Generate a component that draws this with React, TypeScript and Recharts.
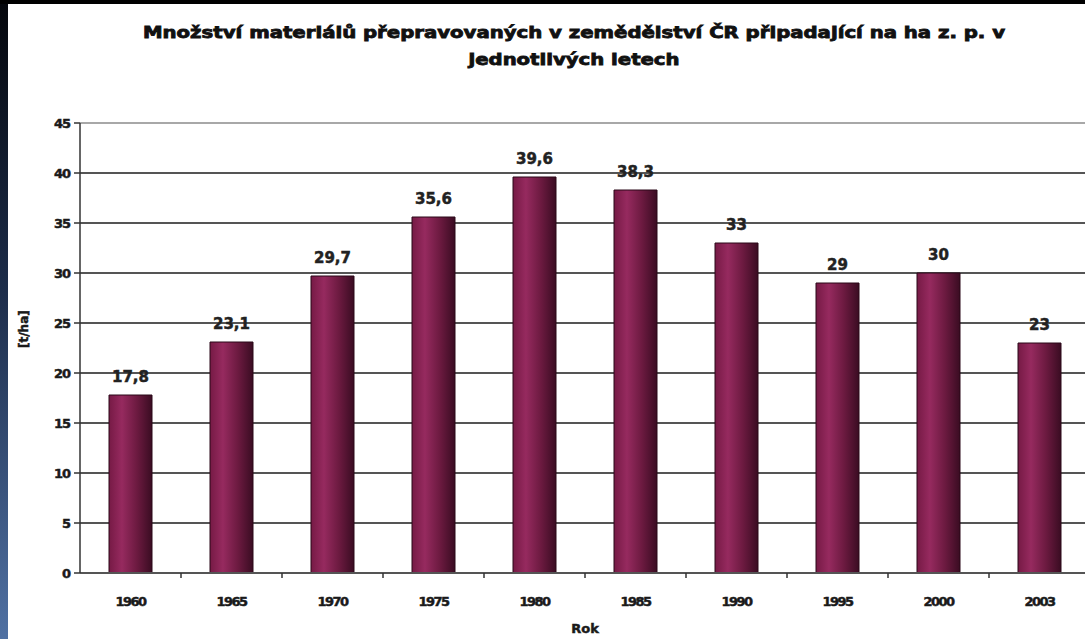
import { BarChart, Bar, XAxis, YAxis, CartesianGrid, LabelList, ReferenceLine } from "recharts";

const years = ["1960", "1965", "1970", "1975", "1980", "1985", "1990", "1995", "2000", "2003"];
const values = [17.8, 23.1, 29.7, 35.6, 39.6, 38.3, 33, 29, 30, 23];
const yTicks = [0, 5, 10, 15, 20, 25, 30, 35, 40, 45];

const titleLine1 = "Množství materiálů přepravovaných v zemědělství ČR připadající na ha z. p. v";
const titleLine2 = "jednotlivých letech";

const data = years.map((year, i) => ({ year, value: values[i] }));

const FONT = "'DejaVu Sans', 'Liberation Sans', sans-serif";

// x tick: year label plus a small tick at the right edge of the category band
const YearTick = (props: any) => {
  const { x, y, payload, width, visibleTicksCount } = props;
  const half = width && visibleTicksCount ? width / visibleTicksCount / 2 : 50;
  return (
    <g>
      <line x1={x + half} x2={x + half} y1={y - 8} y2={y - 3} stroke="#333" strokeWidth={1.5} />
      <text x={x} y={y + 25} textAnchor="middle" fontSize={13} fontWeight="bold" fill="#1a1a1a" stroke="#1a1a1a" strokeWidth={0.5} fontFamily={FONT} letterSpacing={-1.5}>
        {payload.value}
      </text>
    </g>
  );
};

const YTick = (props: any) => {
  const { x, y, payload } = props;
  return (
    <text x={x - 2} y={y + 5} textAnchor="end" fontSize={13} fontWeight="bold" fill="#1a1a1a" stroke="#1a1a1a" strokeWidth={0.5} fontFamily={FONT} letterSpacing={-1}>
      {payload.value}
    </text>
  );
};

const App = () => {
  return (
    <div style={{ position: "absolute", left: 0, top: 0, width: 1085, height: 639, background: "#000", overflow: "hidden" }}>
      {/* blue strip on the left */}
      <div style={{ position: "absolute", left: 0, top: 4, width: 8, height: 635, background: "linear-gradient(#05070c, #1d2d4a 45%, #5071a3)" }} />
      <div style={{ position: "absolute", left: 8, top: 4, width: 1077, height: 635, background: "#fff", overflow: "hidden" }}>
        <svg width={1077} height={80} style={{ position: "absolute", left: 0, top: 0 }}>
          <text x={566} y={34} textAnchor="middle" fontSize={15} fontWeight="bold" fill="#111" fontFamily={FONT} textLength={862} lengthAdjust="spacingAndGlyphs" stroke="#111" strokeWidth={0.8}>
            {titleLine1}
          </text>
          <text x={566} y={61} textAnchor="middle" fontSize={15} fontWeight="bold" fill="#111" fontFamily={FONT} textLength={211} lengthAdjust="spacingAndGlyphs" stroke="#111" strokeWidth={0.8}>
            {titleLine2}
          </text>
        </svg>
        <div style={{ position: "absolute", left: 0, top: 0 }}>
          <BarChart width={1082} height={635} data={data} margin={{ top: 119, right: 0, bottom: 36, left: 0 }}>
            <defs>
              <linearGradient id="barFill" x1="0" y1="0" x2="1" y2="0">
                <stop offset="0%" stopColor="#761a45" />
                <stop offset="30%" stopColor="#962a5f" />
                <stop offset="65%" stopColor="#6c1a40" />
                <stop offset="100%" stopColor="#3a0c22" />
              </linearGradient>
            </defs>
            <CartesianGrid vertical={false} stroke="#555" strokeWidth={2} />
            <ReferenceLine y={45} stroke="#a8a8a8" strokeWidth={2} />
            <XAxis
              dataKey="year"
              height={30}
              axisLine={{ stroke: "#555", strokeWidth: 2 }}
              tickLine={false}
              tick={<YearTick />}
              interval={0}
              label={{ value: "Rok", position: "insideBottom", offset: -30, fontSize: 13, fontWeight: "bold", fill: "#1a1a1a", stroke: "#1a1a1a", strokeWidth: 0.5, fontFamily: FONT }}
            />
            <YAxis
              width={72}
              domain={[0, 45]}
              ticks={yTicks}
              interval={0}
              axisLine={{ stroke: "#333", strokeWidth: 1.5 }}
              tickLine={{ stroke: "#333", strokeWidth: 1.5 }}
              tickSize={6}
              tick={<YTick />}
              label={{ value: "[t/ha]", angle: -90, position: "insideLeft", offset: 16, fontSize: 12, fontWeight: "bold", fill: "#1a1a1a", stroke: "#1a1a1a", strokeWidth: 0.5, fontFamily: FONT }}
            />
            <Bar dataKey="value" fill="url(#barFill)" stroke="#2a0818" strokeWidth={1} barSize={43} isAnimationActive={false}>
              <LabelList
                dataKey="value"
                position="top"
                offset={13}
                formatter={(v: any) => String(v).replace(".", ",")}
                style={{ fontSize: 15, fontWeight: "bold", fill: "#222", stroke: "#222", strokeWidth: 0.5, fontFamily: FONT }}
              />
            </Bar>
          </BarChart>
        </div>
      </div>
    </div>
  );
};

export default App;
